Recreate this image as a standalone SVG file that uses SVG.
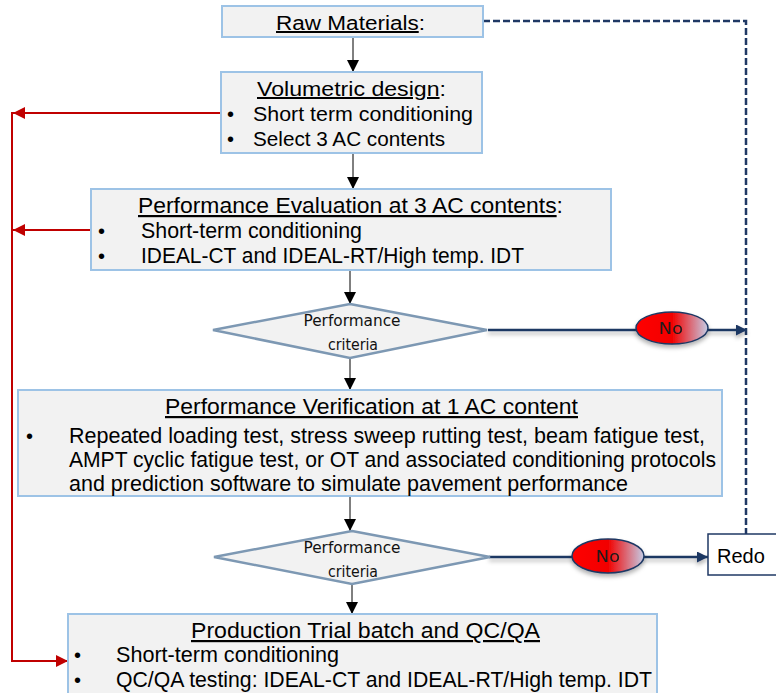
<svg xmlns="http://www.w3.org/2000/svg" width="776" height="693" viewBox="0 0 776 693">
  <defs>
    <style>
      .box { fill: #f2f2f2; stroke: #9dc3e6; stroke-width: 2; }
      .dia { fill: #f2f2f2; stroke: #7d98b3; stroke-width: 2.5; }
      .t { font-family: "Liberation Sans", Arial, sans-serif; font-size: 20px; fill: #000; }
      .c { font-size: 22px; }
      .ts { font-family: "DejaVu Sans", "Liberation Sans", sans-serif; font-size: 16px; fill: #111; text-anchor: middle; }
      .no { font-family: "DejaVu Sans", "Liberation Sans", sans-serif; font-size: 16px; fill: #1a1a1a; text-anchor: middle; }
      .u { text-decoration: underline; }
      .down { stroke: #000; stroke-width: 1; fill: none; marker-end: url(#ahBlack); }
      .red { stroke: #c00000; stroke-width: 2; fill: none; }
      .navy { stroke: #1f3864; stroke-width: 2.5; fill: none; }
    </style>
    <marker id="ahBlack" viewBox="0 0 10 10" refX="10" refY="5" markerWidth="12" markerHeight="12" markerUnits="userSpaceOnUse" orient="auto">
      <path d="M0,0 L10,5 L0,10 z" fill="#000"/>
    </marker>
    <marker id="ahRed" viewBox="0 0 10 10" refX="10" refY="5" markerWidth="12" markerHeight="12" markerUnits="userSpaceOnUse" orient="auto">
      <path d="M0,0 L10,5 L0,10 z" fill="#c00000"/>
    </marker>
    <marker id="ahNavy" viewBox="0 0 10 10" refX="10" refY="5" markerWidth="11" markerHeight="11" markerUnits="userSpaceOnUse" orient="auto">
      <path d="M0,0 L10,5 L0,10 z" fill="#1f3864"/>
    </marker>
    <linearGradient id="noFill" x1="0" y1="0" x2="1" y2="0">
      <stop offset="0" stop-color="#ff0000"/>
      <stop offset="0.5" stop-color="#f20000"/>
      <stop offset="1" stop-color="#c5cde6"/>
    </linearGradient>
    <filter id="shadow" x="-20%" y="-40%" width="140%" height="200%">
      <feDropShadow dx="0" dy="3" stdDeviation="2" flood-color="#000" flood-opacity="0.3"/>
    </filter>
  </defs>

  <!-- connectors -->
  <g id="connectors">
    <path class="down" d="M353,37 V72"/>
    <path class="down" d="M353,153 V189"/>
    <path class="down" d="M350,270 V304"/>
    <path class="down" d="M350,358 V390"/>
    <path class="down" d="M350,496 V531"/>
    <path class="down" d="M352,585 V614"/>

    <path class="red" d="M221,113 H13" marker-end="url(#ahRed)"/>
    <path class="red" d="M91,230 H13" marker-end="url(#ahRed)"/>
    <path class="red" d="M12,112 V661 H68" marker-end="url(#ahRed)"/>

    <path class="navy" d="M483,21 H746 V534" stroke-width="3" stroke-dasharray="7,3"/>
    <g filter="url(#shadow)">
      <path class="navy" d="M488,330 H747" marker-end="url(#ahNavy)"/>
      <path class="navy" d="M489,557 H708" marker-end="url(#ahNavy)"/>
    </g>
  </g>

  <g id="raw-materials">
    <rect class="box" x="222" y="6" width="261" height="31"/>
    <text class="t" x="276" y="30" font-size="21" textLength="149" lengthAdjust="spacingAndGlyphs"><tspan class="u">Raw Materials</tspan>:</text>
  </g>

  <g id="volumetric-design">
    <rect class="box" x="221" y="72" width="261" height="81"/>
    <text class="t" x="257" y="96" font-size="21" textLength="189" lengthAdjust="spacingAndGlyphs"><tspan class="u">Volumetric design</tspan>:</text>
    <text class="t" x="227" y="121">•</text>
    <text class="t" x="253" y="121" textLength="220" lengthAdjust="spacingAndGlyphs">Short term conditioning</text>
    <text class="t" x="227" y="146">•</text>
    <text class="t" x="253" y="146" textLength="192" lengthAdjust="spacingAndGlyphs">Select 3 AC contents</text>
  </g>

  <g id="performance-evaluation">
    <rect class="box" x="91" y="189" width="520" height="81"/>
    <text class="t c" x="138" y="213" textLength="425" lengthAdjust="spacingAndGlyphs"><tspan class="u">Performance Evaluation at 3 AC contents</tspan>:</text>
    <text class="t" x="98" y="238">•</text>
    <text class="t c" x="141" y="238" textLength="221" lengthAdjust="spacingAndGlyphs">Short-term conditioning</text>
    <text class="t" x="98" y="263">•</text>
    <text class="t c" x="141" y="263" textLength="383" lengthAdjust="spacingAndGlyphs">IDEAL-CT and IDEAL-RT/High temp. IDT</text>
  </g>

  <g id="criteria-1">
    <polygon class="dia" points="350,304 487,330 350,358 213,330"/>
    <text class="ts" x="352" y="326" textLength="97" lengthAdjust="spacingAndGlyphs">Performance</text>
    <text class="ts" x="353" y="350" textLength="50" lengthAdjust="spacingAndGlyphs">criteria</text>
  </g>

  <g id="no-1" filter="url(#shadow)">
    <ellipse cx="672" cy="328" rx="36" ry="16" fill="url(#noFill)" stroke="#1f3864" stroke-width="1.5"/>
    <text class="no" x="671" y="334" textLength="24" lengthAdjust="spacingAndGlyphs">No</text>
  </g>

  <g id="performance-verification">
    <rect class="box" x="18" y="390" width="704" height="106"/>
    <text class="t c" x="165" y="414" textLength="413" lengthAdjust="spacingAndGlyphs"><tspan class="u">Performance Verification at 1 AC content</tspan></text>
    <text class="t" x="26" y="443">•</text>
    <text class="t c" x="69" y="443" textLength="636" lengthAdjust="spacingAndGlyphs">Repeated loading test, stress sweep rutting test, beam fatigue test,</text>
    <text class="t c" x="69" y="467" textLength="647" lengthAdjust="spacingAndGlyphs">AMPT cyclic fatigue test, or OT and associated conditioning protocols</text>
    <text class="t c" x="69" y="491" textLength="559" lengthAdjust="spacingAndGlyphs">and prediction software to simulate pavement performance</text>
  </g>

  <g id="criteria-2">
    <polygon class="dia" points="352,531 490,557 352,584 214,557"/>
    <text class="ts" x="352" y="553" textLength="97" lengthAdjust="spacingAndGlyphs">Performance</text>
    <text class="ts" x="353" y="577" textLength="50" lengthAdjust="spacingAndGlyphs">criteria</text>
  </g>

  <g id="no-2" filter="url(#shadow)">
    <ellipse cx="608" cy="556" rx="36" ry="17" fill="url(#noFill)" stroke="#1f3864" stroke-width="1.5"/>
    <text class="no" x="608" y="562" textLength="24" lengthAdjust="spacingAndGlyphs">No</text>
  </g>

  <g id="redo">
    <rect x="708" y="534" width="70" height="41" fill="#fff" stroke="#1f3864" stroke-width="1.5"/>
    <text class="t" x="717" y="563">Redo</text>
  </g>

  <g id="production-trial">
    <rect class="box" x="68" y="614" width="589" height="85"/>
    <text class="t c" x="191" y="638" textLength="349" lengthAdjust="spacingAndGlyphs"><tspan class="u">Production Trial batch and QC/QA</tspan></text>
    <text class="t" x="74" y="662">•</text>
    <text class="t c" x="116" y="662" textLength="223" lengthAdjust="spacingAndGlyphs">Short-term conditioning</text>
    <text class="t" x="74" y="687">•</text>
    <text class="t c" x="116" y="687" textLength="536" lengthAdjust="spacingAndGlyphs">QC/QA testing: IDEAL-CT and IDEAL-RT/High temp. IDT</text>
  </g>
</svg>
